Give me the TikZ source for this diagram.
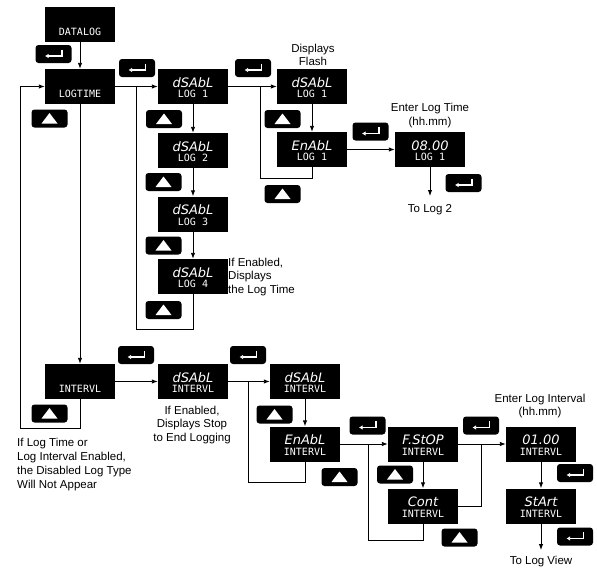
\documentclass[tikz,border=0pt]{standalone}
\usepackage{fontspec}
\setmainfont{Liberation Sans}
\newfontfamily\segA{DejaVu Sans}
\newfontfamily\segB{DejaVu Sans Mono}
\usetikzlibrary{arrows.meta}
\tikzset{
 disp/.style={fill=black, minimum width=70pt, minimum height=35pt, inner sep=0pt, draw=none},
 toprow/.style={text=white, font=\segA\itshape\fontsize{13}{13}\selectfont, inner sep=0pt},
 botrow/.style={text=white, font=\segB\fontsize{10}{10}\selectfont, inner sep=0pt},
 btn/.style={fill=black, rounded corners=3pt, minimum width=36pt, minimum height=18pt, inner sep=0pt},
 enterbtn/.style={btn, path picture={\draw[white, sharp corners, line width=1.3pt, -{Latex[length=3.5pt,width=4.5pt]}] ([xshift=8.5pt,yshift=4.5pt]path picture bounding box.center) -- ([xshift=8.5pt,yshift=-2pt]path picture bounding box.center) -- ([xshift=-8.5pt,yshift=-2pt]path picture bounding box.center);}},
 upbtn/.style={btn, path picture={\fill[white, sharp corners] ([xshift=-8pt,yshift=-5pt]path picture bounding box.center) -- ([xshift=8pt,yshift=-5pt]path picture bounding box.center) -- ([yshift=5.5pt]path picture bounding box.center) -- cycle;}},
 conn/.style={line width=0.9pt},
 arr/.style={conn, -{Latex[length=6pt,width=4.5pt]}},
 note/.style={font=\fontsize{11.5}{13.7}\selectfont, inner sep=0pt, align=center},
 lnote/.style={note, align=left, anchor=west},
}
\newcommand\dispbox[5]{%
 \node[disp] (#1) at (#2,#3) {};
 \node[toprow, anchor=base] (#1t) at ([yshift=-0.5pt]#1.center) {#4};
 \node[botrow, anchor=base] (#1b) at ([yshift=-11pt]#1.center) {#5};
}
\begin{document}
\begin{tikzpicture}[x=1pt,y=-1pt]
\useasboundingbox (0,0) rectangle (597,570);
% display boxes
\dispbox{DL}{80}{24}{}{DATALOG}
\dispbox{LT}{80}{86.5}{}{LOGTIME}
\dispbox{La}{193}{86.5}{dSAbL}{LOG 1}
\dispbox{Lb}{193}{150.5}{dSAbL}{LOG 2}
\dispbox{Lc}{193}{214}{dSAbL}{LOG 3}
\dispbox{Ld}{193}{276.5}{dSAbL}{LOG 4}
\dispbox{Fa}{312}{86.5}{dSAbL}{LOG 1}
\dispbox{Ea}{312}{149.5}{EnAbL}{LOG 1}
\dispbox{Ta}{430}{149.5}{08.00}{LOG 1}
\dispbox{IN}{80}{381.5}{}{INTERVL}
\dispbox{Ia}{193}{381.5}{dSAbL}{INTERVL}
\dispbox{Ib}{305}{381.5}{dSAbL}{INTERVL}
\dispbox{EI}{305}{444}{EnAbL}{INTERVL}
\dispbox{FS}{423}{444}{F.StOP}{INTERVL}
\dispbox{CO}{423}{506}{Cont}{INTERVL}
\dispbox{VA}{541}{444}{01.00}{INTERVL}
\dispbox{SA}{541}{506}{StArt}{INTERVL}
% buttons
\node[enterbtn] (b1) at (53.5,54) {};
\node[upbtn] (b2) at (49.5,118.5) {};
\node[enterbtn] (b3) at (137,68) {};
\node[upbtn] (b4) at (164,119) {};
\node[upbtn] (b5) at (163.5,182) {};
\node[upbtn] (b6) at (163.5,245.5) {};
\node[upbtn] (b7) at (163.5,310) {};
\node[enterbtn] (b8) at (253,68) {};
\node[upbtn] (b9) at (282.5,119) {};
\node[upbtn] (b10) at (282.5,194) {};
\node[enterbtn] (b11) at (370.5,131.5) {};
\node[enterbtn] (b12) at (463.5,183) {};
\node[upbtn] (b13) at (49.5,413.5) {};
\node[enterbtn] (b14) at (136,355) {};
\node[enterbtn] (b15) at (248,355) {};
\node[upbtn] (b16) at (274.5,414.5) {};
\node[upbtn] (b17) at (339.5,477) {};
\node[enterbtn] (b18) at (367.5,425.5) {};
\node[upbtn] (b19) at (395,474.5) {};
\node[upbtn] (b20) at (459.5,537.5) {};
\node[enterbtn] (b21) at (481,425.5) {};
\node[enterbtn] (b22) at (575,473) {};
\node[enterbtn] (b23) at (575,536.5) {};
% notes
\node[note] (n1) at (313,55) {Displays\\Flash};
\node[note] (n2) at (430,115.5) {Enter Log Time\\(hh.mm)};
\node[note] (n3) at (430,210) {To Log 2};
\node[lnote] (n4) at (228,277) {If Enabled,\\Displays\\the Log Time};
\node[note] (n5) at (192,425) {If Enabled,\\Displays Stop\\to End Logging};
\node[lnote] (n6) at (17,464.5) {If Log Time or\\Log Interval Enabled,\\the Disabled Log Type\\Will Not Appear};
\node[note] (n7) at (540,406) {Enter Log Interval\\(hh.mm)};
\node[note] (n8) at (541,562) {To Log View};
% junction coordinates
\coordinate (j1) at (136,86.5);
\coordinate (j1b) at (136,329);
\coordinate (j2) at (260,86.5);
\coordinate (j2b) at (260,178);
\coordinate (t2) at (430,196);
\coordinate (lb) at (20,428);
\coordinate (j3) at (248,381.5);
\coordinate (j3b) at (248,482);
\coordinate (j4) at (368,444);
\coordinate (j4b) at (368,540);
\coordinate (j5) at (481,444);
\coordinate (tv) at (541,550);
% connectors
\draw[arr] (DL) -- (LT);
\draw[arr] (LT) -- (La);
\draw[conn] (j1) -- (j1b) -| (Ld.south);
\draw[arr] (La) -- (Lb);
\draw[arr] (Lb) -- (Lc);
\draw[arr] (Lc) -- (Ld);
\draw[arr] (La) -- (Fa);
\draw[conn] (j2) -- (j2b) -| (Ea.south);
\draw[arr] (Fa) -- (Ea);
\draw[arr] (Ea) -- (Ta);
\draw[arr] (Ta) -- (t2);
\draw[arr] (LT) -- (IN);
\draw[arr] (IN.south) |- (lb) |- (LT.west);
\draw[arr] (IN) -- (Ia);
\draw[arr] (Ia) -- (Ib);
\draw[conn] (j3) -- (j3b) -| (EI.south);
\draw[arr] (Ib) -- (EI);
\draw[arr] (EI) -- (FS);
\draw[conn] (j4) -- (j4b) -| (CO.south);
\draw[arr] (FS) -- (CO);
\draw[arr] (FS) -- (VA);
\draw[conn] (CO.east) -| (j5);
\draw[arr] (VA) -- (SA);
\draw[arr] (SA) -- (tv);
\end{tikzpicture}
\end{document}
